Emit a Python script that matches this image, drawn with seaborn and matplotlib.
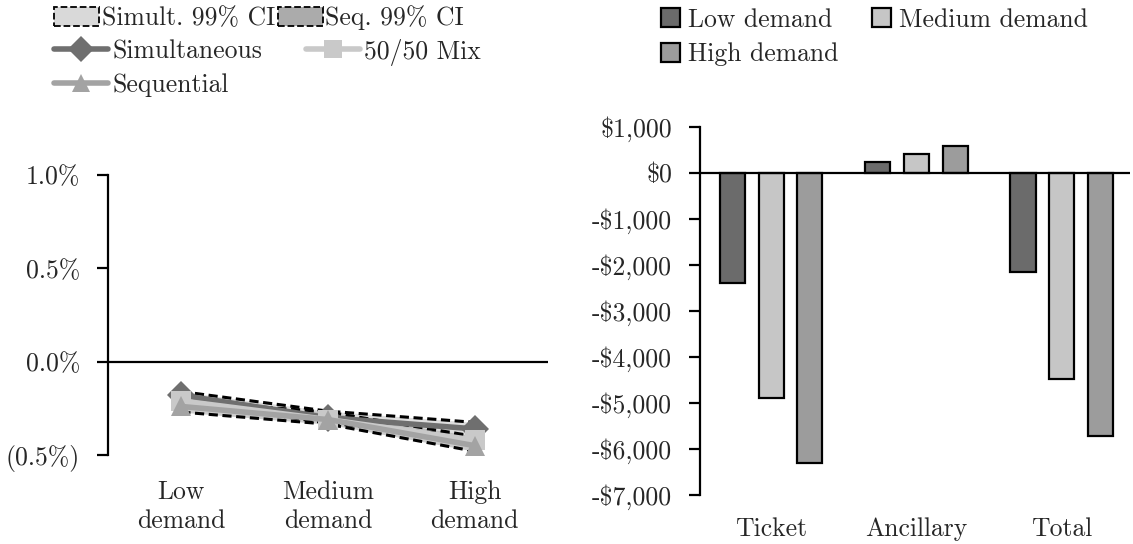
import numpy as np
import pandas as pd
import matplotlib
matplotlib.use("Agg")
import matplotlib.pyplot as plt
import seaborn as sns
from matplotlib.patches import Patch
from matplotlib.lines import Line2D

# ---- data: profit impact by demand level (left) ----
demand_levels = ["Low\ndemand", "Medium\ndemand", "High\ndemand"]
simultaneous = [-0.18, -0.30, -0.36]
mix_50_50 = [-0.21, -0.31, -0.42]
sequential = [-0.24, -0.31, -0.45]
simult_ci_upper = [-0.16, -0.265, -0.325]
simult_ci_lower = [-0.21, -0.33, -0.40]
seq_ci_upper = [-0.21, -0.27, -0.40]
seq_ci_lower = [-0.27, -0.335, -0.48]
pct_ticks = [-0.5, 0.0, 0.5, 1.0]
pct_tick_labels = ["(0.5%)", "0.0%", "0.5%", "1.0%"]

# ---- data: revenue change by component (right) ----
components = ["Ticket", "Ancillary", "Total"]
low_demand = [-2400, 240, -2150]
medium_demand = [-4900, 420, -4480]
high_demand = [-6300, 590, -5720]
usd_ticks = list(range(-7000, 1001, 1000))

sns.set_theme(style="white")
plt.rcParams["font.family"] = ["cmr10", "DejaVu Serif"]
plt.rcParams["axes.formatter.use_mathtext"] = True
plt.rcParams["mathtext.fontset"] = "cm"
FS = 18.5

fig = plt.figure(figsize=(11.33, 5.44), dpi=100)

# ================= left panel =================
ax1 = fig.add_axes([0.0953, 0.1636, 0.3883, 0.5147])
xpos = np.arange(len(demand_levels))

strategies = {"Simultaneous": simultaneous, "50/50 Mix": mix_50_50, "Sequential": sequential}
line_df = pd.DataFrame(
    [(d, s, v) for s, vals in strategies.items() for d, v in zip(demand_levels, vals)],
    columns=["demand", "strategy", "value"],
)
line_colors = {"Simultaneous": "#6f6f6f", "50/50 Mix": "#c9c9c9", "Sequential": "#a3a3a3"}
line_markers = {"Simultaneous": "D", "50/50 Mix": "s", "Sequential": "^"}

# confidence bands with dashed outlines
ax1.fill_between(xpos, simult_ci_lower, simult_ci_upper, color="#d6d6d6", alpha=0.8, zorder=1, lw=0)
ax1.fill_between(xpos, seq_ci_lower, seq_ci_upper, color="#ababab", alpha=0.6, zorder=1, lw=0)
for band in (simult_ci_upper, simult_ci_lower, seq_ci_upper, seq_ci_lower):
    ax1.plot(xpos, band, color="black", ls=(0, (3, 1.5)), lw=2.2, zorder=2)

sns.lineplot(
    data=line_df, x="demand", y="value", hue="strategy", style="strategy",
    palette=line_colors, markers=line_markers, dashes=False, sort=False,
    linewidth=4, markersize=14, markeredgewidth=0, legend=False, ax=ax1, zorder=3,
)

ax1.axhline(0, color="black", lw=1.6, zorder=4)
ax1.set_ylim(-0.5, 1.0)
ax1.set_xlim(-0.5, 2.5)
ax1.set_yticks(pct_ticks)
ax1.set_yticklabels(pct_tick_labels, fontsize=FS)
ax1.set_xticks(xpos)
ax1.set_xticklabels(demand_levels, fontsize=FS, linespacing=1.3)
ax1.set_xlabel("")
ax1.set_ylabel("")
for side in ("top", "right", "bottom"):
    ax1.spines[side].set_visible(False)
ax1.spines["left"].set_color("black")
ax1.spines["left"].set_linewidth(1.6)
ax1.tick_params(axis="y", direction="out", length=8, width=1.6, color="black", pad=12, left=True)
ax1.tick_params(axis="x", length=0, pad=18)

ci_handles = [
    Patch(facecolor="#d9d9d9", edgecolor="black", linestyle="--", linewidth=1.3),
    Patch(facecolor="#ababab", edgecolor="black", linestyle="--", linewidth=1.3),
]
ln_handles = {
    k: Line2D([], [], color=line_colors[k], lw=4, marker=line_markers[k], markersize=13, markeredgewidth=0)
    for k in strategies
}
legend_rows = [
    (ci_handles, ["Simult. 99% CI", "Seq. 99% CI"], 1.75, 0.1, 0.1, 18),
    ([ln_handles["Simultaneous"], ln_handles["50/50 Mix"]], ["Simultaneous", "50/50 Mix"], 2.1, 0.15, 1.7, 52),
    ([ln_handles["Sequential"]], ["Sequential"], 2.1, 0.15, 1.7, 85),
]
for hs, ls, hl, tp, cs, ycen in legend_rows:
    fig.legend(hs, ls, loc="center left", bbox_to_anchor=(0.048, 1 - ycen / 544), ncol=len(hs),
               frameon=False, fontsize=FS, handlelength=hl, handletextpad=tp, handleheight=0.75,
               columnspacing=cs, borderaxespad=0, borderpad=0)

# ================= right panel =================
ax2 = fig.add_axes([0.6178, 0.0901, 0.3795, 0.6765])
demand_names = ["Low demand", "Medium demand", "High demand"]
bar_df = pd.DataFrame(
    [(c, n, v) for n, vals in zip(demand_names, (low_demand, medium_demand, high_demand))
     for c, v in zip(components, vals)],
    columns=["component", "demand", "value"],
)
bar_colors = ["#6b6b6b", "#c6c6c6", "#9c9c9c"]
sns.barplot(
    data=bar_df, x="component", y="value", hue="demand", hue_order=demand_names,
    palette=bar_colors, edgecolor="black", linewidth=1.6, gap=0.35,
    errorbar=None, legend=False, ax=ax2, zorder=2,
)
ax2.axhline(0, color="black", lw=1.6, zorder=3)
ax2.set_ylim(-7000, 1000)
ax2.set_xlim(-0.49, 2.47)
ax2.set_yticks(usd_ticks)
ax2.set_yticklabels([("-" if v < 0 else "") + "\\$" + f"{abs(v):,}" for v in usd_ticks], fontsize=FS)
ax2.set_xticks(range(len(components)))
ax2.set_xticklabels(components, fontsize=FS)
ax2.set_xlabel("")
ax2.set_ylabel("")
for side in ("top", "right", "bottom"):
    ax2.spines[side].set_visible(False)
ax2.spines["left"].set_color("black")
ax2.spines["left"].set_linewidth(1.6)
ax2.tick_params(axis="y", direction="out", length=8, width=1.6, color="black", pad=12, left=True)
ax2.tick_params(axis="x", length=0, pad=16)

bar_handles = [Patch(facecolor=c, edgecolor="black", linewidth=1.6) for c in bar_colors]
order = [0, 2, 1]
fig.legend([bar_handles[i] for i in order], [demand_names[i] for i in order],
           loc="upper left", bbox_to_anchor=(0.579, 0.995), ncol=2,
           frameon=False, fontsize=FS, handlelength=0.75, handleheight=0.75, handletextpad=0.3,
           columnspacing=1.3, labelspacing=0.42, borderaxespad=0, borderpad=0.2)

fig.savefig("out.png", dpi=100, facecolor="white")
